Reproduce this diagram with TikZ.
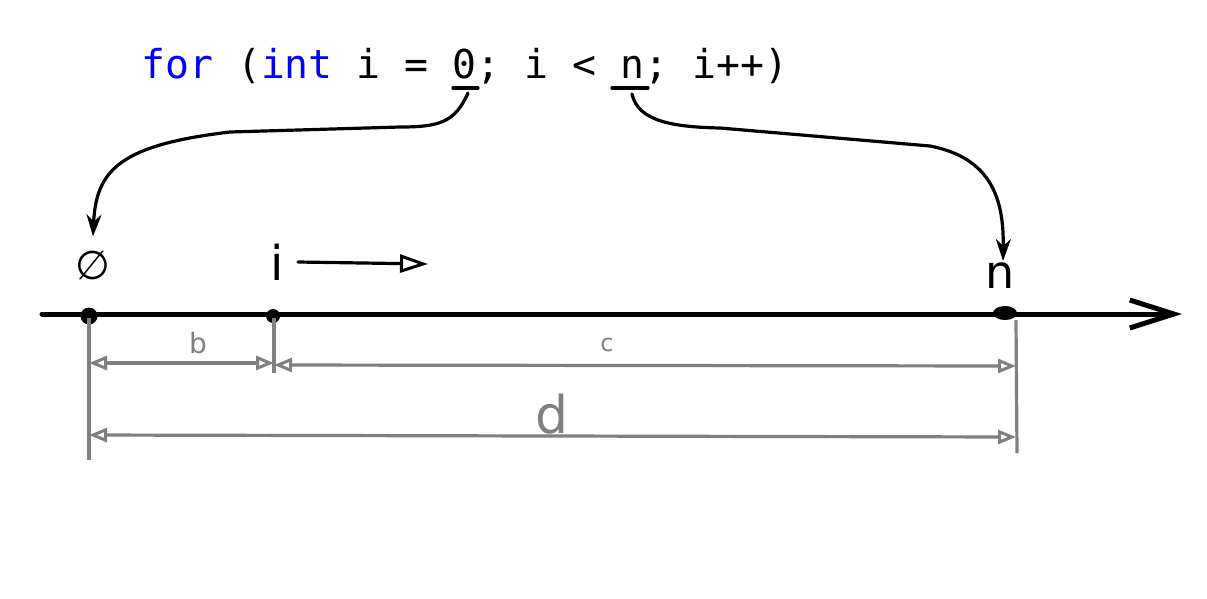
\documentclass[tikz,border=0pt]{standalone}
\usepackage{fontspec}
\setsansfont{DejaVu Sans}
\newfontfamily\codefont{DejaVu Sans Mono}
\usetikzlibrary{arrows.meta}
\definecolor{kw}{RGB}{0,0,255}
\definecolor{dimgray}{RGB}{128,128,128}
\begin{document}
\begin{tikzpicture}[x=1pt,y=-1pt,
  axis/.style={line width=5pt, line cap=round},
  ink/.style={line width=3.2pt, line cap=round},
  dimline/.style={draw=dimgray, line width=3.2pt},
  dimtip/.tip={Triangle[open,length=18pt,width=14pt,line width=3pt]},
  dimarrow/.style={dimline, dimtip-dimtip},
  lab/.style={font=\sffamily\fontsize{44}{44}\selectfont, inner sep=0pt},
  dimlab/.style={text=dimgray, inner sep=0pt},
]
\useasboundingbox[fill=white] (0,0) rectangle (1207,598);
% code line
\node[anchor=base west, inner sep=0pt, font=\codefont\fontsize{39.8}{40}\selectfont] (code) at (141,78)
  {\textcolor{kw}{for} (\textcolor{kw}{int} i = 0; i < n; i++)};
\coordinate (u0a) at (453,88);
\coordinate (u0b) at (478,88);
\coordinate (una) at (612,88);
\coordinate (unb) at (648,88);
\draw[ink] (u0a) -- (u0b);
\draw[ink] (una) -- (unb);
% labels above axis
\node[lab, font=\sffamily\fontsize{40}{40}\selectfont] (zero) at (93,265) {∅};
\node[lab, font=\sffamily\fontsize{48}{48}\selectfont] (ilab) at (277,262) {i};
\node[lab, font=\sffamily\fontsize{46}{46}\selectfont] (nlab) at (1000,276) {n};
% curved arrows from code to axis labels
\coordinate (s0) at (468,93);
\coordinate (sn) at (632,94);
\draw[ink, -{Stealth[length=22pt,width=15pt]}] (s0) .. controls (455,122) and (440,127) .. (400,127)
  -- (230,132) .. controls (120,145) and (96,170) .. ([yshift=14pt]zero.north);
\draw[ink, -{Stealth[length=22pt,width=15pt]}] (sn) .. controls (638,122) and (675,127) .. (720,128)
  -- (930,146) .. controls (992,158) and (1004,200) .. ([xshift=3pt,yshift=2pt]nlab.north);
% i arrow
\coordinate (iend) at (428,264);
\draw[ink, -{Triangle[open,length=28pt,width=18pt,line width=3pt]}] ([xshift=14pt]ilab.east) -- (iend);
% number line
\coordinate (ax0) at (42,314);
\coordinate (ax1) at (1182,314);
\draw[axis, -{Straight Barb[length=44pt,width=28pt,line width=5pt]}] (ax0) -- (ax1);
\fill (89,316) circle (8.5pt);
\fill (273,316) circle (7pt);
\fill (1005,313) ellipse (12pt and 7pt);
% gray extension lines
\coordinate (e0t) at (89,318);  \coordinate (e0b) at (89,460);
\coordinate (eit) at (274,318); \coordinate (eib) at (274,373);
\coordinate (ent) at (1016,320); \coordinate (enb) at (1017,453);
\draw[dimline] (e0t) -- (e0b);
\draw[dimline] (eit) -- (eib);
\draw[dimline] (ent) -- (enb);
% dimension lines
\coordinate (b0) at (89,363);  \coordinate (b1) at (274,363);
\coordinate (c0) at (274,365); \coordinate (c1) at (1016,366);
\coordinate (d0) at (89,435);  \coordinate (d1) at (1016,437);
\draw[dimarrow] (b0) -- (b1);
\draw[dimarrow] (c0) -- (c1);
\draw[dimarrow] (d0) -- (d1);
\node[dimlab, font=\sffamily\fontsize{28}{28}\selectfont] (blab) at (198,343) {b};
\node[dimlab, font=\sffamily\fontsize{24}{24}\selectfont] (clab) at (607,345) {c};
\node[dimlab, font=\sffamily\fontsize{52}{52}\selectfont] (dlab) at (552,414) {d};
\end{tikzpicture}
\end{document}
